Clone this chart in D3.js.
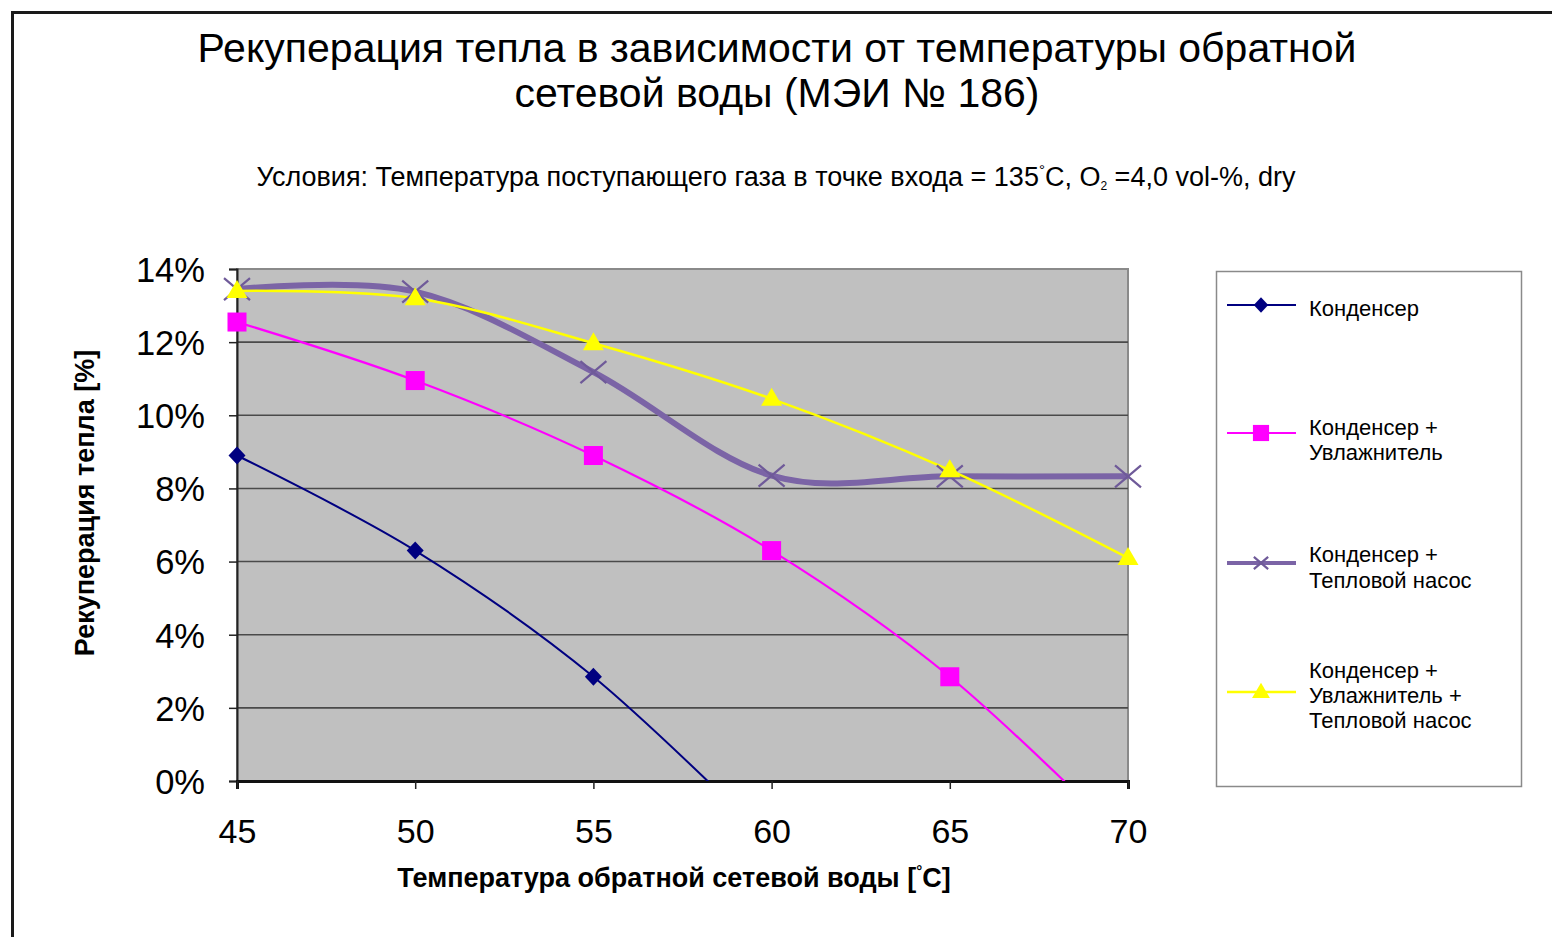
<!DOCTYPE html>
<html>
<head>
<meta charset="utf-8">
<script src="https://cdn.jsdelivr.net/npm/d3@7"></script>
<style>
  html, body { margin: 0; padding: 0; background: #ffffff; }
  svg { display: block; font-family: "Liberation Sans", Arial, sans-serif; }
</style>
</head>
<body>
<svg id="chart" width="1552" height="937"></svg>
<script>
// Return-water temperature categories (°C)
const temperatures = [45, 50, 55, 60, 65, 70];

// Heat recovery, % (values below 0 fall outside the axis and are clipped)
const condenser          = [8.9, 6.3, 2.85, -1.7, null, null];
const condenserHumid     = [12.55, 10.95, 8.9, 6.3, 2.85, -1.7];
const condenserHeatPump  = [13.45, 13.38, 11.18, 8.35, 8.33, 8.33];
const condenserHumidPump = [13.4, 13.2, 11.97, 10.45, 8.5, 6.1];

const yTicks = [0, 2, 4, 6, 8, 10, 12, 14];

const seriesNames = [
  ["Конденсер"],
  ["Конденсер +", "Увлажнитель"],
  ["Конденсер +", "Тепловой насос"],
  ["Конденсер +", "Увлажнитель +", "Тепловой насос"]
];

const series = [
  { name: seriesNames[0], values: condenser,          color: "#000080", width: 2,   marker: "diamond" },
  { name: seriesNames[1], values: condenserHumid,     color: "#ff00ff", width: 2.2, marker: "square" },
  { name: seriesNames[2], values: condenserHeatPump,  color: "#7b64a6", width: 6,   marker: "cross" },
  { name: seriesNames[3], values: condenserHumidPump, color: "#ffff00", width: 2.5, marker: "triangle" }
];

const svg = d3.select("#chart");

// outer chart frame
svg.append("rect")
  .attr("x", 12.5).attr("y", 12.5)
  .attr("width", 1600).attr("height", 1000)
  .attr("fill", "#ffffff")
  .attr("stroke", "#1a1a1a").attr("stroke-width", 3);

// titles
const title = svg.append("text")
  .attr("text-anchor", "middle")
  .attr("font-size", 41)
  .attr("fill", "#000");
title.append("tspan").attr("x", 777).attr("y", 62)
  .text("Рекуперация тепла в зависимости от температуры обратной");
title.append("tspan").attr("x", 777).attr("y", 107)
  .text("сетевой воды (МЭИ № 186)");

const sub = svg.append("text")
  .attr("x", 776).attr("y", 186)
  .attr("text-anchor", "middle")
  .attr("font-size", 27)
  .attr("fill", "#000");
sub.append("tspan").text("Условия: Температура поступающего газа в точке входа = 135");
sub.append("tspan").attr("font-size", 15).attr("dy", -11).text("°");
sub.append("tspan").attr("dy", 11).text("C, O");
sub.append("tspan").attr("font-size", 12).attr("dy", 4).text("2");
sub.append("tspan").attr("dy", -4).text(" =4,0 vol-%, dry");

// plot area
const plot = { left: 237, right: 1128, top: 269, bottom: 781 };

const x = d3.scalePoint()
  .domain(temperatures)
  .range([plot.left, plot.right]);

const y = d3.scaleLinear()
  .domain([0, 14])
  .range([plot.bottom, plot.top]);

svg.append("rect")
  .attr("x", plot.left).attr("y", plot.top)
  .attr("width", plot.right - plot.left).attr("height", plot.bottom - plot.top)
  .attr("fill", "#c0c0c0")
  .attr("stroke", "#8a8a8a").attr("stroke-width", 2);

// horizontal gridlines
svg.append("g")
  .selectAll("line")
  .data(yTicks.filter(d => d > 0 && d < 14))
  .join("line")
  .attr("x1", plot.left).attr("x2", plot.right)
  .attr("y1", d => y(d)).attr("y2", d => y(d))
  .attr("stroke", "#4a4a4a").attr("stroke-width", 1.6);

// y axis
const yAxis = svg.append("g")
  .attr("transform", `translate(${plot.left},0)`)
  .call(d3.axisLeft(y).tickValues(yTicks).tickSize(8).tickPadding(24).tickFormat(d => d + "%"));
yAxis.select(".domain").attr("stroke", "#222").attr("stroke-width", 2);
yAxis.selectAll(".tick line").attr("stroke", "#222").attr("stroke-width", 1.5);
yAxis.selectAll(".tick text")
  .attr("font-size", 34.5).attr("font-family", "Liberation Sans, Arial, sans-serif")
  .attr("fill", "#000").attr("dy", "0.36em");

// x axis
const xAxis = svg.append("g")
  .attr("transform", `translate(0,${plot.bottom})`)
  .call(d3.axisBottom(x).tickSize(8).tickPadding(30));
xAxis.select(".domain").attr("stroke", "#111").attr("stroke-width", 3);
xAxis.selectAll(".tick line").attr("stroke", "#222").attr("stroke-width", 1.5);
xAxis.selectAll(".tick text")
  .attr("font-size", 34).attr("font-family", "Liberation Sans, Arial, sans-serif")
  .attr("fill", "#000");

// axis titles
const xt = svg.append("text")
  .attr("x", 674).attr("y", 887)
  .attr("text-anchor", "middle")
  .attr("font-size", 27).attr("font-weight", "bold")
  .attr("fill", "#000");
xt.append("tspan").text("Температура обратной сетевой воды [");
xt.append("tspan").attr("font-size", 15).attr("dy", -11).text("°");
xt.append("tspan").attr("dy", 11).text("C]");

svg.append("text")
  .attr("transform", "translate(94,503) rotate(-90)")
  .attr("text-anchor", "middle")
  .attr("font-size", 27).attr("font-weight", "bold")
  .attr("fill", "#000")
  .text("Рекуперация тепла [%]");

// series lines, clipped to the plot area
svg.append("defs").append("clipPath").attr("id", "plotClip")
  .append("rect")
  .attr("x", plot.left).attr("y", plot.top)
  .attr("width", plot.right - plot.left).attr("height", plot.bottom - plot.top);

const line = d3.line()
  .defined(d => d.v !== null)
  .x(d => x(d.t))
  .y(d => y(d.v))
  .curve(d3.curveCatmullRom.alpha(0));

const lines = svg.append("g").attr("clip-path", "url(#plotClip)");
series.forEach(s => {
  const pts = temperatures.map((t, i) => ({ t, v: s.values[i] }));
  lines.append("path")
    .datum(pts)
    .attr("d", line)
    .attr("fill", "none")
    .attr("stroke", s.color)
    .attr("stroke-width", s.width)
    .attr("stroke-linejoin", "round");
});

// marker shapes
function drawMarker(g, type, color, cx, cy, k = 1) {
  if (type === "diamond") {
    g.append("path")
      .attr("d", `M${cx},${cy - 9 * k}L${cx + 8.5 * k},${cy}L${cx},${cy + 9 * k}L${cx - 8.5 * k},${cy}Z`)
      .attr("fill", color);
  } else if (type === "square") {
    g.append("rect")
      .attr("x", cx - 9.5 * k).attr("y", cy - 9.5 * k).attr("width", 19 * k).attr("height", 19 * k)
      .attr("fill", color);
  } else if (type === "triangle") {
    g.append("path")
      .attr("d", `M${cx},${cy - 11 * k}L${cx + 10.5 * k},${cy + 7 * k}L${cx - 10.5 * k},${cy + 7 * k}Z`)
      .attr("fill", color);
  } else if (type === "cross") {
    const a = 13 * k, b = 11 * k;
    g.append("path")
      .attr("d", `M${cx - a},${cy - b}L${cx + a},${cy + b}M${cx - a},${cy + b}L${cx + a},${cy - b}`)
      .attr("stroke", "#6f5a99").attr("stroke-width", 2.2).attr("fill", "none");
  }
}

const markers = svg.append("g");
series.forEach(s => {
  temperatures.forEach((t, i) => {
    const v = s.values[i];
    if (v === null || v < 0) return;
    drawMarker(markers, s.marker, s.color, x(t), y(v));
  });
});

// legend
const legend = svg.append("g");
legend.append("rect")
  .attr("x", 1216.5).attr("y", 271.5).attr("width", 305).attr("height", 515)
  .attr("fill", "#ffffff").attr("stroke", "#8a8a8a").attr("stroke-width", 1.5);

const legendRows = [
  { lineY: 305, textY: [316] },
  { lineY: 433, textY: [435, 460] },
  { lineY: 563, textY: [562, 588] },
  { lineY: 692, textY: [678, 703, 728] }
];

series.forEach((s, i) => {
  const r = legendRows[i];
  legend.append("line")
    .attr("x1", 1227).attr("x2", 1296)
    .attr("y1", r.lineY).attr("y2", r.lineY)
    .attr("stroke", s.color).attr("stroke-width", s.width === 6 ? 4 : s.width);
  drawMarker(legend, s.marker, s.color, 1261, r.lineY, s.marker === "cross" ? 0.55 : 0.85);
  const t = legend.append("text")
    .attr("font-size", 22).attr("fill", "#000");
  s.name.forEach((ln, k) => {
    t.append("tspan").attr("x", 1309).attr("y", r.textY[k]).text(ln);
  });
});
</script>
</body>
</html>
